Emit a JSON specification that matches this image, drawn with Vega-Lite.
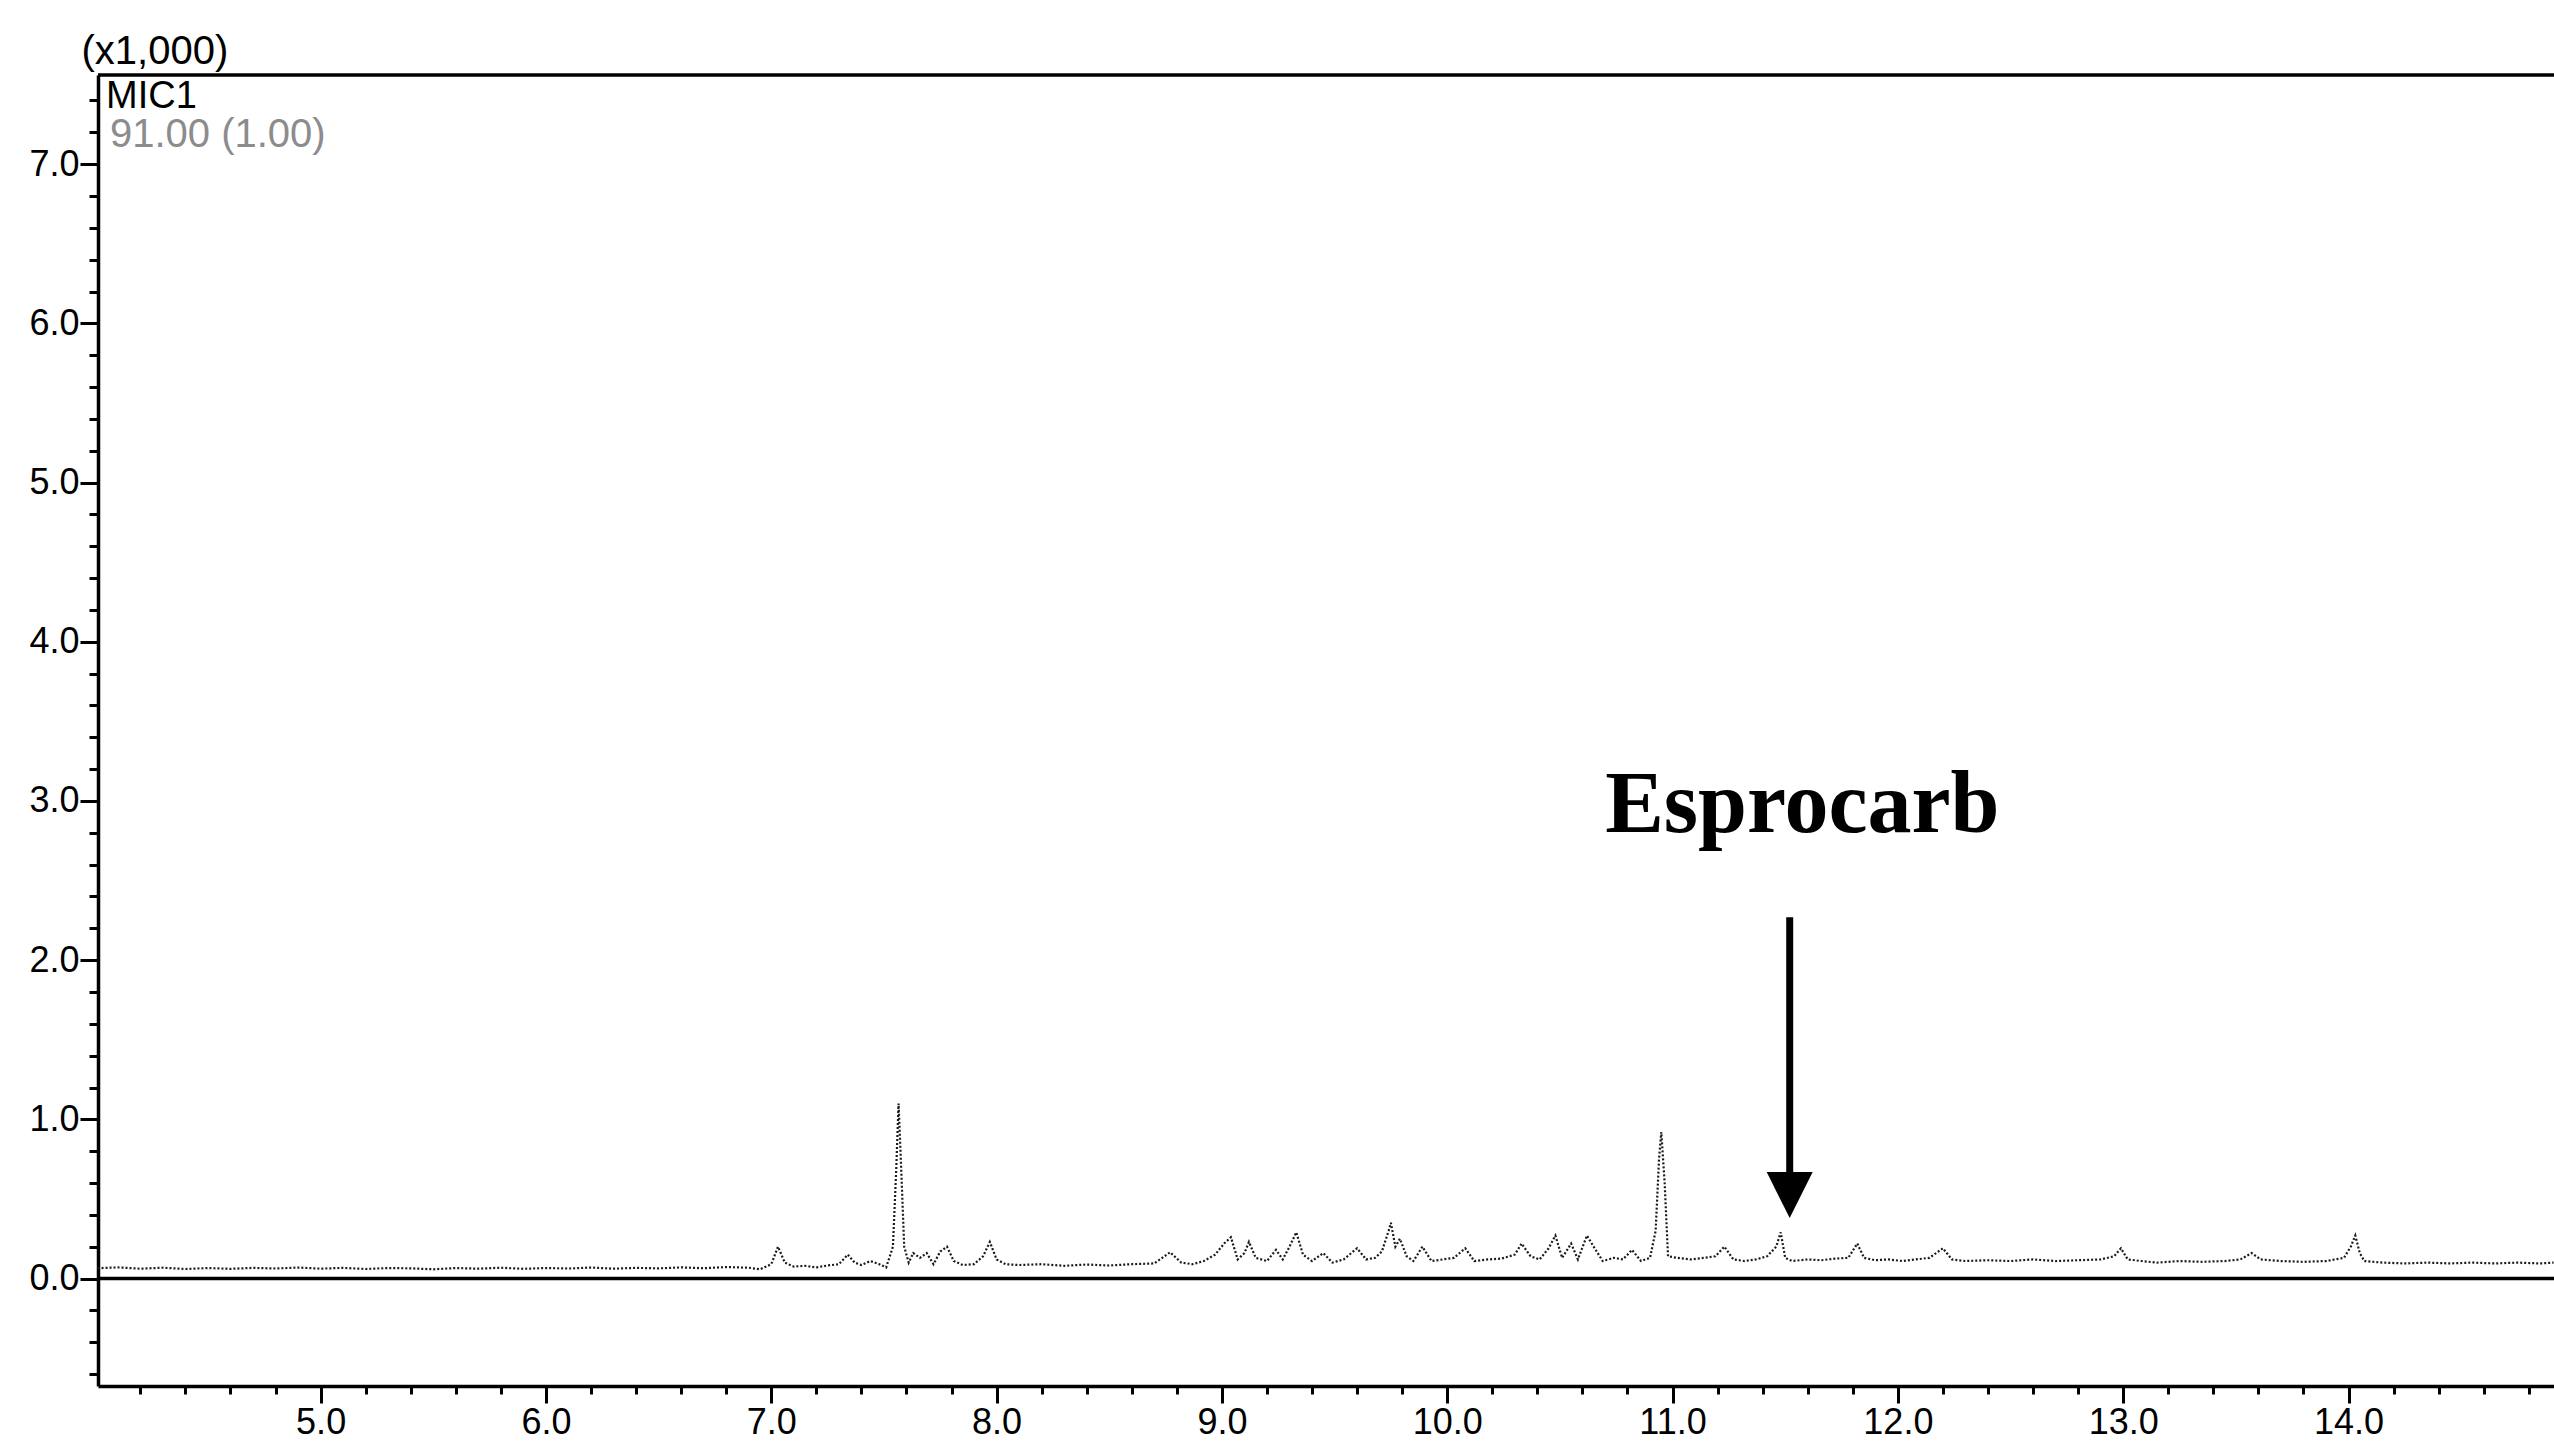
{
  "$schema": "https://vega.github.io/schema/vega-lite/v6.json",
  "width": 2456,
  "height": 1311,
  "padding": {"left": 98, "top": 75, "right": 0, "bottom": 59},
  "autosize": {"type": "none"},
  "background": "white",
  "config": {
    "view": {"stroke": null},
    "font": "Liberation Sans",
    "axis": {"labelOverlap": false, "labelFlush": false, "labelBound": false}
  },
  "datasets": {
    "trace": [
      {"t": 4.01, "v": 0.065}, {"t": 4.1, "v": 0.07}, {"t": 4.2, "v": 0.062}, {"t": 4.3, "v": 0.068},
      {"t": 4.4, "v": 0.06}, {"t": 4.5, "v": 0.066}, {"t": 4.6, "v": 0.061}, {"t": 4.7, "v": 0.067},
      {"t": 4.8, "v": 0.063}, {"t": 4.9, "v": 0.069}, {"t": 5.0, "v": 0.062}, {"t": 5.1, "v": 0.067},
      {"t": 5.2, "v": 0.06}, {"t": 5.3, "v": 0.066}, {"t": 5.4, "v": 0.064}, {"t": 5.5, "v": 0.058},
      {"t": 5.6, "v": 0.066}, {"t": 5.7, "v": 0.062}, {"t": 5.8, "v": 0.068}, {"t": 5.9, "v": 0.061},
      {"t": 6.0, "v": 0.066}, {"t": 6.1, "v": 0.063}, {"t": 6.2, "v": 0.069}, {"t": 6.3, "v": 0.062},
      {"t": 6.4, "v": 0.067}, {"t": 6.5, "v": 0.064}, {"t": 6.6, "v": 0.07}, {"t": 6.7, "v": 0.065},
      {"t": 6.8, "v": 0.072}, {"t": 6.9, "v": 0.068}, {"t": 6.95, "v": 0.058}, {"t": 7.0, "v": 0.09},
      {"t": 7.03, "v": 0.2}, {"t": 7.06, "v": 0.1}, {"t": 7.1, "v": 0.075}, {"t": 7.15, "v": 0.08},
      {"t": 7.2, "v": 0.07}, {"t": 7.25, "v": 0.082}, {"t": 7.3, "v": 0.09}, {"t": 7.34, "v": 0.15},
      {"t": 7.37, "v": 0.1}, {"t": 7.4, "v": 0.085}, {"t": 7.44, "v": 0.11}, {"t": 7.48, "v": 0.09},
      {"t": 7.51, "v": 0.07}, {"t": 7.54, "v": 0.2}, {"t": 7.555, "v": 0.7}, {"t": 7.565, "v": 1.1},
      {"t": 7.575, "v": 0.75}, {"t": 7.59, "v": 0.2}, {"t": 7.61, "v": 0.1}, {"t": 7.63, "v": 0.16},
      {"t": 7.66, "v": 0.13}, {"t": 7.69, "v": 0.16}, {"t": 7.72, "v": 0.09}, {"t": 7.75, "v": 0.17},
      {"t": 7.78, "v": 0.2}, {"t": 7.81, "v": 0.11}, {"t": 7.85, "v": 0.085}, {"t": 7.9, "v": 0.09},
      {"t": 7.94, "v": 0.14}, {"t": 7.97, "v": 0.23}, {"t": 8.0, "v": 0.12}, {"t": 8.04, "v": 0.09},
      {"t": 8.1, "v": 0.085}, {"t": 8.2, "v": 0.09}, {"t": 8.3, "v": 0.08}, {"t": 8.4, "v": 0.088},
      {"t": 8.5, "v": 0.082}, {"t": 8.6, "v": 0.09}, {"t": 8.7, "v": 0.095}, {"t": 8.77, "v": 0.165},
      {"t": 8.82, "v": 0.1}, {"t": 8.87, "v": 0.09}, {"t": 8.92, "v": 0.11}, {"t": 8.97, "v": 0.15},
      {"t": 9.01, "v": 0.22}, {"t": 9.04, "v": 0.26}, {"t": 9.07, "v": 0.12}, {"t": 9.1, "v": 0.16},
      {"t": 9.12, "v": 0.23}, {"t": 9.15, "v": 0.13}, {"t": 9.2, "v": 0.11}, {"t": 9.24, "v": 0.18},
      {"t": 9.27, "v": 0.12}, {"t": 9.3, "v": 0.2}, {"t": 9.33, "v": 0.29}, {"t": 9.36, "v": 0.15},
      {"t": 9.4, "v": 0.11}, {"t": 9.45, "v": 0.16}, {"t": 9.49, "v": 0.1}, {"t": 9.54, "v": 0.12},
      {"t": 9.6, "v": 0.19}, {"t": 9.64, "v": 0.12}, {"t": 9.68, "v": 0.13}, {"t": 9.71, "v": 0.17},
      {"t": 9.74, "v": 0.3}, {"t": 9.75, "v": 0.35}, {"t": 9.77, "v": 0.2}, {"t": 9.79, "v": 0.25},
      {"t": 9.82, "v": 0.14}, {"t": 9.85, "v": 0.11}, {"t": 9.89, "v": 0.2}, {"t": 9.93, "v": 0.11},
      {"t": 9.98, "v": 0.12}, {"t": 10.03, "v": 0.13}, {"t": 10.08, "v": 0.19}, {"t": 10.12, "v": 0.11},
      {"t": 10.18, "v": 0.12}, {"t": 10.24, "v": 0.125}, {"t": 10.3, "v": 0.15}, {"t": 10.33, "v": 0.22},
      {"t": 10.37, "v": 0.14}, {"t": 10.41, "v": 0.12}, {"t": 10.45, "v": 0.19}, {"t": 10.48, "v": 0.27},
      {"t": 10.51, "v": 0.13}, {"t": 10.55, "v": 0.22}, {"t": 10.58, "v": 0.12}, {"t": 10.62, "v": 0.27},
      {"t": 10.65, "v": 0.2}, {"t": 10.69, "v": 0.11}, {"t": 10.74, "v": 0.13}, {"t": 10.78, "v": 0.12},
      {"t": 10.82, "v": 0.18}, {"t": 10.86, "v": 0.11}, {"t": 10.9, "v": 0.13}, {"t": 10.925, "v": 0.3},
      {"t": 10.94, "v": 0.75}, {"t": 10.95, "v": 0.92}, {"t": 10.965, "v": 0.6}, {"t": 10.98, "v": 0.14},
      {"t": 11.02, "v": 0.13}, {"t": 11.08, "v": 0.12}, {"t": 11.14, "v": 0.13}, {"t": 11.19, "v": 0.14},
      {"t": 11.23, "v": 0.2}, {"t": 11.27, "v": 0.12}, {"t": 11.32, "v": 0.11}, {"t": 11.37, "v": 0.12},
      {"t": 11.42, "v": 0.14}, {"t": 11.46, "v": 0.2}, {"t": 11.48, "v": 0.29}, {"t": 11.5, "v": 0.13},
      {"t": 11.53, "v": 0.11}, {"t": 11.6, "v": 0.12}, {"t": 11.66, "v": 0.115}, {"t": 11.72, "v": 0.125},
      {"t": 11.78, "v": 0.13}, {"t": 11.82, "v": 0.22}, {"t": 11.85, "v": 0.13}, {"t": 11.9, "v": 0.115},
      {"t": 11.96, "v": 0.12}, {"t": 12.02, "v": 0.11}, {"t": 12.08, "v": 0.12}, {"t": 12.14, "v": 0.13},
      {"t": 12.2, "v": 0.19}, {"t": 12.24, "v": 0.12}, {"t": 12.3, "v": 0.11}, {"t": 12.4, "v": 0.115},
      {"t": 12.5, "v": 0.11}, {"t": 12.6, "v": 0.12}, {"t": 12.7, "v": 0.11}, {"t": 12.8, "v": 0.115},
      {"t": 12.9, "v": 0.12}, {"t": 12.96, "v": 0.14}, {"t": 12.99, "v": 0.19}, {"t": 13.02, "v": 0.12},
      {"t": 13.08, "v": 0.11}, {"t": 13.15, "v": 0.1}, {"t": 13.25, "v": 0.11}, {"t": 13.35, "v": 0.105},
      {"t": 13.45, "v": 0.11}, {"t": 13.52, "v": 0.12}, {"t": 13.57, "v": 0.16}, {"t": 13.61, "v": 0.12},
      {"t": 13.7, "v": 0.11}, {"t": 13.8, "v": 0.105}, {"t": 13.9, "v": 0.11}, {"t": 13.98, "v": 0.13},
      {"t": 14.01, "v": 0.2}, {"t": 14.03, "v": 0.27}, {"t": 14.05, "v": 0.16}, {"t": 14.07, "v": 0.11},
      {"t": 14.15, "v": 0.1}, {"t": 14.25, "v": 0.095}, {"t": 14.35, "v": 0.1}, {"t": 14.45, "v": 0.095},
      {"t": 14.55, "v": 0.1}, {"t": 14.65, "v": 0.095}, {"t": 14.75, "v": 0.1}, {"t": 14.85, "v": 0.095},
      {"t": 14.91, "v": 0.1}
    ],
    "frame": [
      {"edge": "baseline", "v": 0},
      {"edge": "top", "v": 7.56}
    ],
    "header": [
      {"t": 4.048, "v": 7.353, "text": "MIC1", "kind": "channel"},
      {"t": 4.065, "v": 7.11, "text": "91.00 (1.00)", "kind": "mz"}
    ],
    "peak": [
      {"t": 11.52, "v": 2.27, "v2": 0.62, "head": 0.524, "labelT": 11.576, "labelV": 2.805, "name": "Esprocarb"}
    ]
  },
  "layer": [
    {
      "data": {"name": "frame"},
      "mark": {"type": "rule", "color": "black", "strokeWidth": 3.5},
      "encoding": {
        "y": {
          "field": "v",
          "type": "quantitative",
          "scale": {"domain": [-0.675, 7.56], "nice": false, "zero": false},
          "axis": {
            "values": [-0.6, -0.4, -0.2, 0, 0.2, 0.4, 0.6, 0.8, 1, 1.2, 1.4, 1.6, 1.8, 2, 2.2, 2.4, 2.6, 2.8, 3, 3.2, 3.4, 3.6, 3.8, 4, 4.2, 4.4, 4.6, 4.8, 5, 5.2, 5.4, 5.6, 5.8, 6, 6.2, 6.4, 6.6, 6.8, 7, 7.2, 7.4],
            "tickCount": 200,
            "labelExpr": "abs(datum.value - round(datum.value)) < 0.001 && datum.value >= 0 ? format(datum.value, '.1f') : ''",
            "labelOverlap": false,
            "labelFlush": false,
            "labelFont": "Liberation Sans",
            "labelFontSize": {"condition": {"test": "abs(datum.value - round(datum.value)) < 0.001 && datum.value >= 0", "value": 36}, "value": 0},
            "labelColor": "black",
            "labelPadding": 1,
            "tickColor": "black",
            "tickWidth": 3,
            "tickSize": {"condition": {"test": "abs(datum.value - round(datum.value)) < 0.001", "value": 18}, "value": 9},
            "domainColor": "black",
            "domainWidth": 3.5,
            "grid": false,
            "title": "(x1,000)",
            "titleAngle": 0,
            "titleAlign": "left",
            "titleBaseline": "alphabetic",
            "titleX": -17,
            "titleY": -12,
            "titleFont": "Liberation Sans",
            "titleFontSize": 40,
            "titleFontWeight": "normal",
            "titleColor": "black"
          }
        }
      }
    },
    {
      "data": {"name": "trace"},
      "mark": {"type": "line", "color": "#1a1a1a", "strokeWidth": 2.2, "strokeDash": [2, 2], "interpolate": "linear"},
      "encoding": {
        "x": {
          "field": "t",
          "type": "quantitative",
          "scale": {"domain": [4.012, 14.912], "nice": false, "zero": false},
          "axis": {
            "values": [4.2, 4.4, 4.6, 4.8, 5, 5.2, 5.4, 5.6, 5.8, 6, 6.2, 6.4, 6.6, 6.8, 7, 7.2, 7.4, 7.6, 7.8, 8, 8.2, 8.4, 8.6, 8.8, 9, 9.2, 9.4, 9.6, 9.8, 10, 10.2, 10.4, 10.6, 10.8, 11, 11.2, 11.4, 11.6, 11.8, 12, 12.2, 12.4, 12.6, 12.8, 13, 13.2, 13.4, 13.6, 13.8, 14, 14.2, 14.4, 14.6, 14.8],
            "tickCount": 200,
            "labelExpr": "abs(datum.value - round(datum.value)) < 0.001 ? format(datum.value, '.1f') : ''",
            "labelOverlap": false,
            "labelFlush": false,
            "labelFont": "Liberation Sans",
            "labelFontSize": {"condition": {"test": "abs(datum.value - round(datum.value)) < 0.001", "value": 36}, "value": 0},
            "labelColor": "black",
            "labelPadding": 2,
            "tickColor": "black",
            "tickWidth": 3,
            "tickSize": {"condition": {"test": "abs(datum.value - round(datum.value)) < 0.001", "value": 17}, "value": 8},
            "domainColor": "black",
            "domainWidth": 3.5,
            "grid": false,
            "title": null
          }
        },
        "y": {"field": "v", "type": "quantitative"}
      }
    },
    {
      "data": {"name": "header"},
      "transform": [{"filter": "datum.kind === 'channel'"}],
      "mark": {"type": "text", "align": "left", "baseline": "alphabetic", "font": "Liberation Sans", "fontSize": 38, "color": "black"},
      "encoding": {
        "x": {"field": "t", "type": "quantitative"},
        "y": {"field": "v", "type": "quantitative"},
        "text": {"field": "text"}
      }
    },
    {
      "data": {"name": "header"},
      "transform": [{"filter": "datum.kind === 'mz'"}],
      "mark": {"type": "text", "align": "left", "baseline": "alphabetic", "font": "Liberation Sans", "fontSize": 40, "color": "#8c8c8c"},
      "encoding": {
        "x": {"field": "t", "type": "quantitative"},
        "y": {"field": "v", "type": "quantitative"},
        "text": {"field": "text"}
      }
    },
    {
      "data": {"name": "peak"},
      "mark": {"type": "rule", "color": "black", "strokeWidth": 7},
      "encoding": {
        "x": {"field": "t", "type": "quantitative"},
        "y": {"field": "v", "type": "quantitative"},
        "y2": {"field": "v2"}
      }
    },
    {
      "data": {"name": "peak"},
      "mark": {"type": "point", "shape": "M-1,-1L1,-1L0,1Z", "size": 2116, "filled": true, "color": "black", "opacity": 1},
      "encoding": {
        "x": {"field": "t", "type": "quantitative"},
        "y": {"field": "head", "type": "quantitative"}
      }
    },
    {
      "data": {"name": "peak"},
      "mark": {"type": "text", "align": "center", "baseline": "alphabetic", "font": "Liberation Serif", "fontWeight": "bold", "fontSize": 88, "color": "black"},
      "encoding": {
        "x": {"field": "labelT", "type": "quantitative"},
        "y": {"field": "labelV", "type": "quantitative"},
        "text": {"field": "name"}
      }
    }
  ]
}
